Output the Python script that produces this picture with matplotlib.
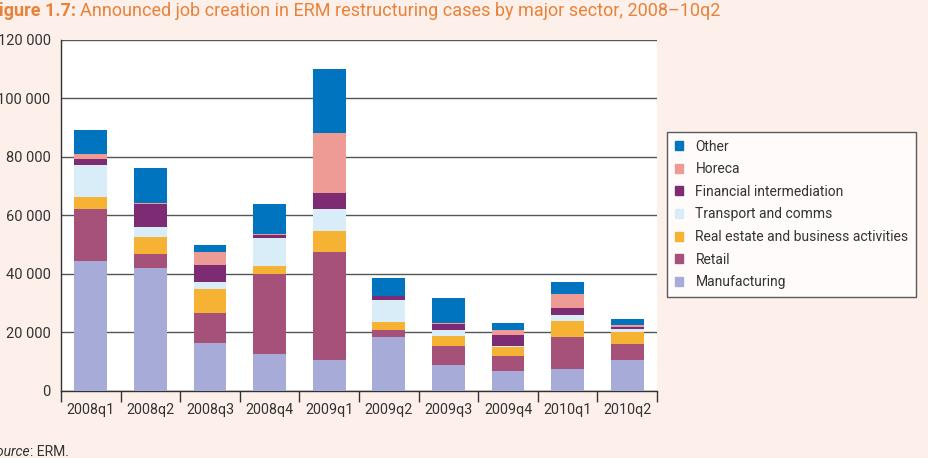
import numpy as np
import matplotlib
matplotlib.use('Agg')
import matplotlib.pyplot as plt
from matplotlib.ticker import FuncFormatter, FixedLocator
from matplotlib.patches import Patch

plt.rcParams['font.family'] = ['Roboto', 'DejaVu Sans']

quarters = ['2008q1', '2008q2', '2008q3', '2008q4', '2009q1',
            '2009q2', '2009q3', '2009q4', '2010q1', '2010q2']

# jobs, thousands
manufacturing = [44.4, 42.0, 16.4, 12.6, 10.6, 18.6, 8.8, 6.9, 7.6, 10.6]
retail        = [17.7, 4.8, 10.2, 27.4, 36.8, 2.4, 6.7, 5.2, 11.0, 5.4]
real_estate   = [4.3, 6.0, 8.3, 2.8, 7.4, 2.5, 3.3, 2.8, 5.3, 4.3]
transport     = [10.9, 3.2, 2.4, 9.6, 7.4, 7.5, 2.1, 0.4, 2.2, 0.8]
financial     = [2.1, 7.9, 5.9, 1.1, 5.4, 1.5, 2.0, 3.9, 2.4, 0.9]
horeca        = [1.6, 0.5, 4.3, 0.2, 20.5, 0.0, 0.3, 1.6, 4.5, 0.4]
other         = [8.2, 11.8, 2.5, 10.3, 21.9, 6.0, 8.5, 2.6, 4.2, 2.1]

sectors = ['Manufacturing', 'Retail', 'Real estate and business activities',
           'Transport and comms', 'Financial intermediation', 'Horeca', 'Other']
series = [manufacturing, retail, real_estate, transport, financial, horeca, other]
colors = ['#a6acd7', '#a5517a', '#f6b333', '#d8edf7', '#7d2b73', '#ee9b95', '#0074bf']

bg = '#fdf0ea'
txt = '#333333'
fig = plt.figure(figsize=(9.29, 4.58), dpi=100, facecolor=bg)
ax = fig.add_axes([0.0657, 0.1463, 0.7072 - 0.0657, 0.9127 - 0.1463])
ax.set_facecolor('white')

x = np.arange(len(quarters))
bottom = np.zeros(len(quarters))
for name, vals, c in zip(sectors, series, colors):
    v = np.array(vals) * 1000
    ax.bar(x, v, 0.55, bottom=bottom, color=c, label=name, zorder=3)
    bottom += v

ax.set_xlim(-0.5, len(quarters) - 0.5)
ax.set_ylim(0, 120000)
ax.set_yticks(np.arange(0, 120001, 20000))
ax.yaxis.set_major_formatter(FuncFormatter(lambda v, p: '{:,.0f}'.format(v).replace(',', ' ')))
ax.grid(axis='y', color='#555555', linewidth=1.0, zorder=1)

ax.set_xticks(x)
ax.set_xticklabels(quarters)
ax.xaxis.set_minor_locator(FixedLocator(np.arange(-0.5, len(quarters), 1.0)))
ax.tick_params(axis='x', which='major', length=0, pad=9, labelsize=10.3, labelcolor=txt)
ax.tick_params(axis='x', which='minor', length=8, width=1, color=txt)
ax.tick_params(axis='y', length=0, pad=7.5, labelsize=10.5, labelcolor=txt)

for s in ['top', 'right']:
    ax.spines[s].set_visible(False)
for s in ['left', 'bottom']:
    ax.spines[s].set_color(txt)
    ax.spines[s].set_linewidth(1)

handles = [Patch(color=c, label=n) for n, c in zip(sectors, colors)][::-1]
leg = fig.legend(handles=handles, loc='upper left', bbox_to_anchor=(0.718, 0.712),
                 borderaxespad=0, frameon=True, fancybox=False, edgecolor=txt, fontsize=10,
                 handlelength=0.6, handleheight=0.6, handletextpad=0.9,
                 labelspacing=0.62, borderpad=0.55, labelcolor=txt)
leg.get_frame().set_linewidth(1)

orange = '#e8823a'
t1 = fig.text(-0.012, 0.975, 'Figure 1.7:', fontsize=13, fontweight='bold', color=orange, va='center')
fig.canvas.draw()
bb = t1.get_window_extent().transformed(fig.transFigure.inverted())
fig.text(bb.x1 + 0.005, 0.975,
         'Announced job creation in ERM restructuring cases by major sector, 2008\u201310q2',
         fontsize=13, color=orange, va='center')

s1 = fig.text(-0.012, 0.013, 'Source', fontsize=10, style='italic', color=txt, va='center')
fig.canvas.draw()
bb = s1.get_window_extent().transformed(fig.transFigure.inverted())
fig.text(bb.x1, 0.013, ': ERM.', fontsize=10, color=txt, va='center')

fig.savefig('out.png', dpi=100, facecolor=bg)
